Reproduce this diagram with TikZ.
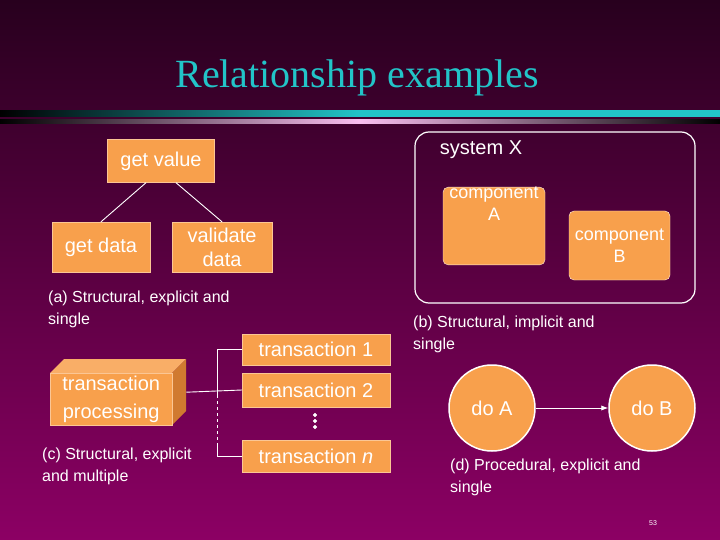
\documentclass[tikz,border=0pt]{standalone}
\usepackage{fontspec}
\setmainfont{Liberation Sans}
\newfontfamily\titlefont{Liberation Serif}
\usetikzlibrary{arrows.meta,shapes.geometric}
\definecolor{org}{HTML}{F8A04C}
\definecolor{orgside}{HTML}{D07A30}
\definecolor{cy}{HTML}{22C4C8}
\begin{document}
\begin{tikzpicture}[x=1pt,y=-1pt,
  box/.style={draw=org!60!white,fill=org,text=white,inner sep=0pt,font=\fontsize{20}{22}\selectfont},
  rbox/.style={box,rounded corners=5pt,draw=white!80!org},
  captxt/.style={text=white,anchor=north west,align=left,font=\fontsize{16}{22}\selectfont,inner sep=0pt},
  ln/.style={draw=white,line width=0.9pt},
  circ/.style={circle,draw=white,line width=1.5pt,fill=org,text=white,minimum size=86pt,inner sep=0pt,font=\fontsize{20}{22}\selectfont}]
\useasboundingbox (0,0) rectangle (720,540);
\shade[top color={rgb,255:red,40;green,0;blue,30},bottom color={rgb,255:red,140;green,0;blue,100}] (0,0) rectangle (720,540);
\node[text=cy,font=\titlefont\fontsize{40}{44}\selectfont] (title) at (357,78) {Relationship examples};
\shade[left color=black,right color=cy,middle color=cy] (0,111) rectangle (720,117);
\shade[left color=black,right color=black,middle color={rgb,255:red,250;green,190;blue,240}] (0,120) rectangle (720,124);
% (a)
\node[box,minimum width=107pt,minimum height=43pt] (gv) at (161,161) {get value};
\node[box,minimum width=98pt,minimum height=50pt] (gd) at (101,247) {get data};
\node[box,minimum width=100pt,minimum height=50pt,align=center,font=\fontsize{20}{24}\selectfont] (vd) at (222,247) {validate\\data};
\draw[ln] (gv.south) ++(-15,0) coordinate (g1) -- (gd.north);
\draw[ln] (gv.south) ++(15,0) coordinate (g2) -- (vd.north);
\node[captxt] (ca) at (48,291) {(a) Structural, explicit and\\single};
% (b)
\node[draw=white,line width=1.2pt,rounded corners=14pt,minimum width=280pt,minimum height=171pt] (sx) at (555,217.5) {};
\node[text=white,font=\fontsize{20}{22}\selectfont] (sxl) at (481,150) {system X};
\node[rbox,minimum width=102pt,minimum height=70pt,font=\fontsize{18}{22}\selectfont,align=center,anchor=north] (cA) at (494,187) {component\\A\\[22pt]};
\node[rbox,minimum width=101pt,minimum height=69pt,font=\fontsize{18}{22}\selectfont,align=center] (cB) at (619.5,245.5) {component\\B};
\node[captxt] (cb) at (413,316) {(b) Structural, implicit and\\single};
% (c)
\node[box,minimum width=148pt,minimum height=31pt] (t1) at (316,349.5) {transaction 1};
\node[box,minimum width=148pt,minimum height=34pt] (t2) at (316,390) {transaction 2};
\node[box,minimum width=148pt,minimum height=32pt] (tn) at (316,456) {transaction \textit{n}};
\foreach \yy [count=\i] in {415,421,427} \node[circle,draw=white,fill=white,inner sep=1.3pt] (d\i) at (315,\yy) {};
\fill[org!85!white] (50,373) -- (64,359) -- (186,359) -- (172,373) -- cycle;
\fill[orgside] (172,373) -- (186,359) -- (186,411) -- (172,425) -- cycle;
\node[box,minimum width=122pt,minimum height=52pt,align=center,font=\fontsize{20}{28}\selectfont,anchor=north west] (tp) at (50,373) {transaction\\processing};
\coordinate (jt) at (217,349.5);
\coordinate (jn) at (217,456);
\coordinate (jd) at (217,395);
\draw[ln] (tp.east) ++(14,-7) coordinate (tpe) -- (t2.west);
\draw[ln] (t1.west) -- (jt) -- (jd);
\draw[ln,dashed] (jd) -- (217,445) coordinate (je);
\draw[ln] (je) -- (jn) -- (tn.west);
\node[captxt] (cc) at (42,448) {(c) Structural, explicit\\and multiple};
% (d)
\node[circ] (dA) at (492,408) {do A};
\node[circ] (dB) at (652,408) {do B};
\draw[ln,-{Latex[length=7pt]}] (dA) -- (dB);
\node[captxt] (cd) at (450,459) {(d) Procedural, explicit and\\single};
\node[text=white,font=\fontsize{7}{8}\selectfont] (pg) at (653,523) {53};
\end{tikzpicture}
\end{document}
